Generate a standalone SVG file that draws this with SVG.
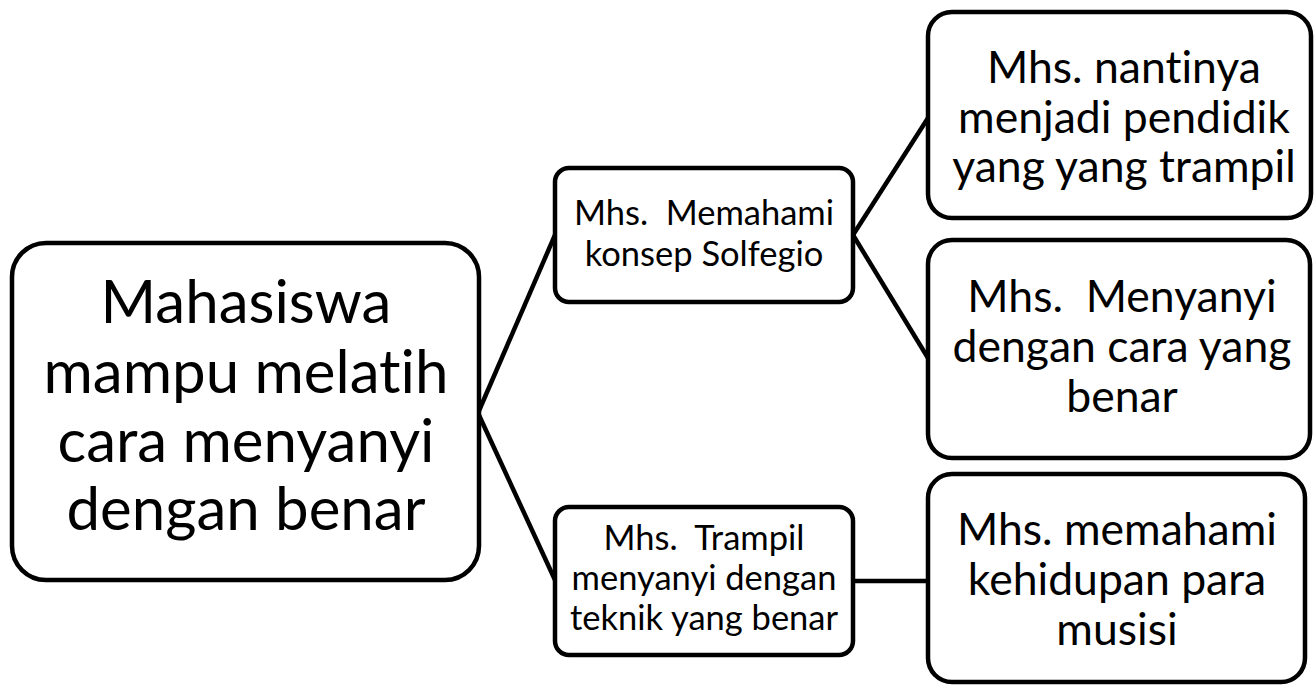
<svg xmlns="http://www.w3.org/2000/svg" width="1314" height="685" viewBox="0 0 1314 685">
<style>
.box{fill:#fff;stroke:#000;stroke-width:4.5}
.c{stroke:#000;stroke-width:4.5;fill:none}
text{font-family:Lato,"Liberation Sans",sans-serif;fill:#000;text-anchor:middle;white-space:pre;font-variant-ligatures:none;font-feature-settings:"liga" 0}
.t1{font-size:60px}
.t2{font-size:34.5px}
.t3{font-size:44.5px}
</style>
<rect width="1314" height="685" fill="#fff"/>
<g id="connectors">
<line class="c" x1="478" y1="413" x2="555" y2="235"/>
<line class="c" x1="478" y1="413" x2="555" y2="580"/>
<line class="c" x1="853" y1="235" x2="928" y2="118"/>
<line class="c" x1="853" y1="235" x2="928" y2="358"/>
<line class="c" x1="853" y1="581" x2="928" y2="581"/>
</g>
<g id="n-main">
<rect class="box" x="12" y="243" width="467" height="337" rx="34"/>
<text class="t1" xml:space="preserve"><tspan x="246" y="323">Mahasiswa</tspan><tspan x="246" y="393">mampu melatih</tspan><tspan x="246" y="462">cara menyanyi</tspan><tspan x="246" y="530">dengan benar</tspan></text>
</g>
<g id="n-solfegio">
<rect class="box" x="555" y="168" width="298" height="134" rx="14"/>
<text class="t2" xml:space="preserve"><tspan x="704" y="225">Mhs.  Memahami</tspan><tspan x="704" y="266">konsep Solfegio</tspan></text>
</g>
<g id="n-trampil">
<rect class="box" x="555" y="507" width="298" height="148" rx="14"/>
<text class="t2" xml:space="preserve"><tspan x="704" y="550">Mhs.  Trampil</tspan><tspan x="704" y="590">menyanyi dengan</tspan><tspan x="704" y="630">teknik yang benar</tspan></text>
</g>
<g id="n-pendidik">
<rect class="box" x="928" y="12" width="383" height="206" rx="24"/>
<text class="t3" xml:space="preserve"><tspan x="1124" y="83">Mhs. nantinya</tspan><tspan x="1124" y="133">menjadi pendidik</tspan><tspan x="1124" y="182">yang yang trampil</tspan></text>
</g>
<g id="n-menyanyi">
<rect class="box" x="928" y="240" width="382" height="218" rx="24"/>
<text class="t3" xml:space="preserve"><tspan x="1122" y="312">Mhs.  Menyanyi</tspan><tspan x="1122" y="362">dengan cara yang</tspan><tspan x="1122" y="412">benar</tspan></text>
</g>
<g id="n-musisi">
<rect class="box" x="928" y="474" width="377" height="208" rx="24"/>
<text class="t3" xml:space="preserve"><tspan x="1117" y="545">Mhs. memahami</tspan><tspan x="1117" y="595">kehidupan para</tspan><tspan x="1117" y="645">musisi</tspan></text>
</g>
</svg>
